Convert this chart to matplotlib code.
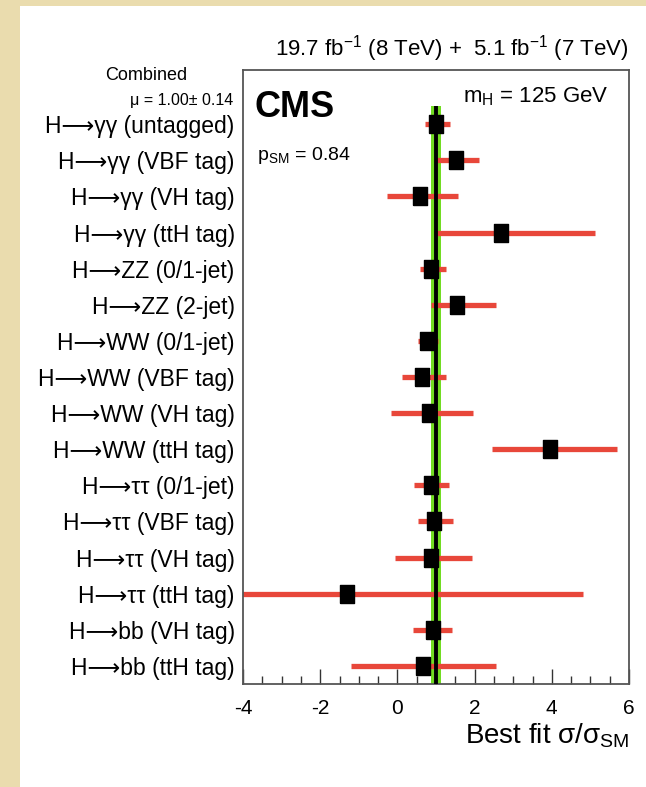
import matplotlib
matplotlib.use("Agg")
import matplotlib.pyplot as plt
from matplotlib.patches import Rectangle
from matplotlib.ticker import MultipleLocator

plt.rcParams['font.family'] = ['Liberation Sans', 'DejaVu Sans']
plt.rcParams['mathtext.default'] = 'regular'

ARROW = "\u27f6"

# ---- data ----
categories = [
    "H" + ARROW + "\u03b3\u03b3 (untagged)",
    "H" + ARROW + "\u03b3\u03b3 (VBF tag)",
    "H" + ARROW + "\u03b3\u03b3 (VH tag)",
    "H" + ARROW + "\u03b3\u03b3 (ttH tag)",
    "H" + ARROW + "ZZ (0/1-jet)",
    "H" + ARROW + "ZZ (2-jet)",
    "H" + ARROW + "WW (0/1-jet)",
    "H" + ARROW + "WW (VBF tag)",
    "H" + ARROW + "WW (VH tag)",
    "H" + ARROW + "WW (ttH tag)",
    "H" + ARROW + "\u03c4\u03c4 (0/1-jet)",
    "H" + ARROW + "\u03c4\u03c4 (VBF tag)",
    "H" + ARROW + "\u03c4\u03c4 (VH tag)",
    "H" + ARROW + "\u03c4\u03c4 (ttH tag)",
    "H" + ARROW + "bb (VH tag)",
    "H" + ARROW + "bb (ttH tag)",
]
best_fit = [1.01, 1.53, 0.58, 2.68, 0.88, 1.55, 0.77, 0.64, 0.82, 3.95, 0.87, 0.96, 0.88, -1.31, 0.91, 0.67]
err_low = [0.71, 1.01, -0.27, 0.94, 0.58, 0.87, 0.53, 0.12, -0.16, 2.46, 0.42, 0.54, -0.05, -4.3, 0.41, -1.19]
err_high = [1.35, 2.12, 1.57, 5.12, 1.27, 2.56, 1.05, 1.27, 1.96, 5.70, 1.33, 1.45, 1.93, 4.81, 1.42, 2.56]
combined_mu = 1.00
combined_err = 0.14
xticks = [-4, -2, 0, 2, 4, 6]

# ---- figure ----
W, H = 646, 787
fig = plt.figure(figsize=(W / 100, H / 100), dpi=100, facecolor='#eadcae')
fig.patches.append(Rectangle((20 / W, 0), 1 - 20 / W, (H - 6) / H,
                             transform=fig.transFigure, facecolor='white',
                             edgecolor='none', zorder=-5))

ax_l, ax_r, ax_t, ax_b = 243, 629, 70, 684
ax = fig.add_axes([ax_l / W, 1 - ax_b / H, (ax_r - ax_l) / W, (ax_b - ax_t) / H])
ax.set_zorder(2)
ax.set_facecolor('white')

n = len(categories)
ypos = list(range(n))

red = '#e8473a'
green = '#72dc22'

ax.fill_betweenx([-0.5, n - 0.5], combined_mu - combined_err, combined_mu + combined_err,
                 color=green, lw=0, zorder=1)
ax.hlines(ypos, err_low, err_high, color=red, lw=3.8, zorder=2)
ax.vlines(combined_mu, -0.5, n - 0.5, color='black', lw=2.8, zorder=3)
rect_marker = [(-0.39, -0.5), (0.39, -0.5), (0.39, 0.5), (-0.39, 0.5), (-0.39, -0.5)]
ax.plot(best_fit, ypos, linestyle='none', marker=rect_marker, markersize=13,
        color='black', zorder=4)

ax.set_xlim(-4, 6)
ax.set_ylim(n - 0.5, -1.5)

ax.set_yticks(ypos)
ax.set_yticklabels(categories, fontsize=16.5)
ax.tick_params(axis='y', length=0, pad=6)

ax.set_xticks(xticks)
ax.set_xticklabels([str(t) for t in xticks], fontsize=15)
ax.xaxis.set_minor_locator(MultipleLocator(0.5))
ax.tick_params(axis='x', which='major', direction='in', length=11, width=1.0,
               color='#333333', pad=11)
ax.tick_params(axis='x', which='minor', direction='in', length=5.5, width=1.0,
               color='#333333')

for s in ax.spines.values():
    s.set_color('#555555')
    s.set_linewidth(1.3)

ax.set_xlabel("Best fit \u03c3/\u03c3$_{SM}$", fontsize=20, loc='right')
ax.xaxis.set_label_coords(1.0, -(722 - ax_b) / (ax_b - ax_t) - 0.0)
ax.xaxis.label.set_verticalalignment('top')

axh = ax_b - ax_t
axw = ax_r - ax_l
ax.text(1.0, (ax_b - 56) / axh, "19.7 fb$^{-1}$ (8 TeV) +  5.1 fb$^{-1}$ (7 TeV)",
        transform=ax.transAxes, ha='right', va='baseline', fontsize=16)
ax.text((255 - ax_l) / axw, (ax_b - 117) / axh, "CMS", transform=ax.transAxes,
        ha='left', va='baseline', fontsize=26, fontweight='bold')
ax.text((463 - ax_l) / axw, (ax_b - 102) / axh, "m$_{H}$ = 125 GeV", transform=ax.transAxes,
        ha='left', va='baseline', fontsize=16)
ax.text((257 - ax_l) / axw, (ax_b - 160) / axh, "p$_{SM}$ = 0.84", transform=ax.transAxes,
        ha='left', va='baseline', fontsize=14)

fig.text(146 / W, 1 - 76 / H, "Combined", ha='center', va='center', fontsize=13)
fig.text(233 / W, 1 - 100 / H, "\u03bc = %.2f\u00b1 %.2f" % (combined_mu, combined_err),
         ha='right', va='center', fontsize=11.5)

fig.savefig("out.png", dpi=100, facecolor=fig.get_facecolor())
